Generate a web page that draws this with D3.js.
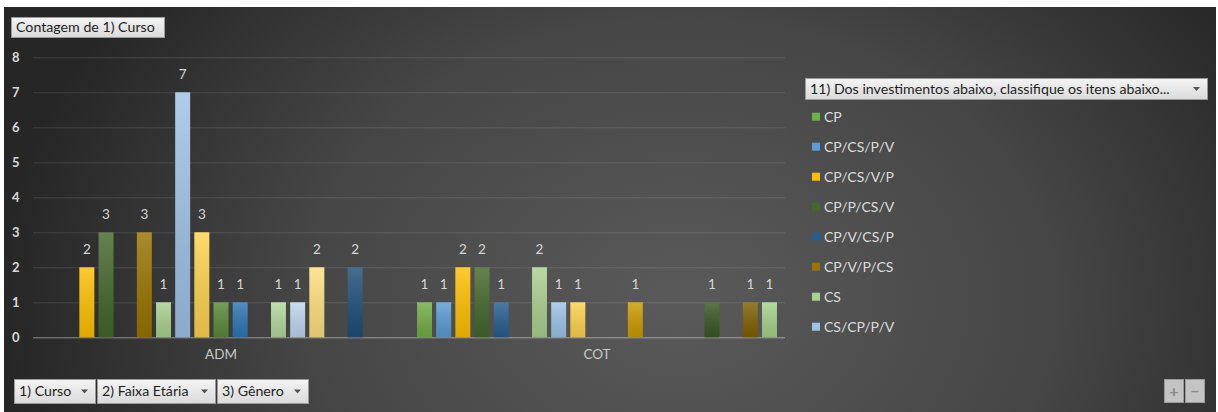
<!DOCTYPE html>
<html>
<head>
<meta charset="utf-8">
<script src="https://cdn.jsdelivr.net/npm/d3@7"></script>
<style>
  html, body { margin: 0; padding: 0; background: #ffffff; }
  svg { display: block; }
  text { font-family: Lato, "Open Sans", sans-serif; }
</style>
</head>
<body>
<svg id="chart" width="1218" height="412"></svg>
<script>
// ---------- data ----------
const categories = ["ADM", "COT"];
const seriesNames = [
  "CP", "CP/CS/P/V", "CP/CS/V/P", "CP/P/CS/V", "CP/V/CS/P", "CP/V/P/CS",
  "CS", "CS/CP/P/V", "CS/CP/V/P", "CS/P/CP/V", "CS/P/V/CP", "CS/V/CP/P",
  "CS/V/P/CP", "P/CP/CS/V", "P/CS/CP/V", "P/V/CP/CS", "V/CP/CS/P", "V/CS/CP/P", "V/P/CS/CP"
];
const seriesColors = [
  "#70AD47", "#5B9BD5", "#FFC000", "#43682B", "#255E91", "#997300",
  "#A9D18E", "#9DC3E6", "#FFD34D", "#5A8A39", "#2E75B6", "#CC9A00",
  "#B4D89C", "#BDD7EE", "#FFE080", "#385723", "#1F4E79", "#806000", "#A5D28A"
];
// counts per series: [ADM, COT]  (0 = no bar)
const valuesADM = [0, 0, 2, 3, 0, 3, 1, 7, 3, 1, 1, 0, 1, 1, 2, 0, 2, 0, 0];
const valuesCOT = [1, 1, 2, 2, 1, 0, 2, 1, 1, 0, 0, 1, 0, 0, 0, 1, 0, 1, 1];
const yTicks = [0, 1, 2, 3, 4, 5, 6, 7, 8];
const legendShown = 8;
const titleLabel = "Contagem de 1) Curso";
const legendTitle = "11) Dos investimentos abaixo, classifique os itens abaixo...";
const filterButtons = ["1) Curso", "2) Faixa Etária", "3) Gênero"];

// ---------- layout ----------
const svg = d3.select("#chart");
const W = 1218, H = 412;
const plot = { left: 33, right: 785, top: 57.3, bottom: 337.3 };

const defs = svg.append("defs");
const bg = defs.append("radialGradient").attr("id", "bg")
  .attr("gradientUnits", "userSpaceOnUse")
  .attr("cx", 680).attr("cy", 300).attr("r", 680)
  .attr("gradientTransform", "translate(680,300) scale(1,0.75) translate(-680,-300)");
bg.append("stop").attr("offset", "0%").attr("stop-color", "#5a5a5a");
bg.append("stop").attr("offset", "55%").attr("stop-color", "#464646");
bg.append("stop").attr("offset", "100%").attr("stop-color", "#262626");

const btn = defs.append("linearGradient").attr("id", "btn").attr("x1", 0).attr("y1", 0).attr("x2", 0).attr("y2", 1);
btn.append("stop").attr("offset", "0%").attr("stop-color", "#f4f4f4");
btn.append("stop").attr("offset", "100%").attr("stop-color", "#dadada");

const shine = defs.append("linearGradient").attr("id", "shine").attr("x1", 0).attr("y1", 0).attr("x2", 0).attr("y2", 1);
shine.append("stop").attr("offset", "0%").attr("stop-color", "#ffffff").attr("stop-opacity", 0.18);
shine.append("stop").attr("offset", "100%").attr("stop-color", "#000000").attr("stop-opacity", 0.12);

svg.append("rect").attr("x", 0).attr("y", 0).attr("width", W).attr("height", H).attr("fill", "#ffffff");
svg.append("rect").attr("x", 4).attr("y", 7).attr("width", W - 6).attr("height", H - 7).attr("fill", "url(#bg)");

// scales
const y = d3.scaleLinear().domain([0, 8]).range([plot.bottom, plot.top]);
const x0 = d3.scaleBand().domain(categories).range([plot.left, plot.right]).padding(0);
const x1 = d3.scaleBand().domain(d3.range(seriesNames.length))
  .range([0, x0.bandwidth()]).paddingInner(0.22).paddingOuter(0.42);

// gridlines
const grid = svg.append("g").attr("transform", `translate(${plot.left},0)`)
  .call(d3.axisLeft(y).tickValues(yTicks).tickSize(-(plot.right - plot.left)).tickFormat(""));
grid.select(".domain").remove();
grid.selectAll(".tick line").attr("stroke", "#ffffff").attr("stroke-opacity", d => d === 0 ? 0.45 : 0.12).attr("stroke-width", 1);

// y tick labels
const yAxis = svg.append("g").attr("transform", "translate(12,0)")
  .call(d3.axisRight(y).tickValues(yTicks).tickSize(0).tickPadding(0));
yAxis.select(".domain").remove();
yAxis.selectAll(".tick text").attr("fill", "#d9d9d9").attr("font-size", 13).attr("font-weight", "bold")
  .attr("font-family", "Lato, sans-serif");

// x category labels
const xAxis = svg.append("g").attr("transform", `translate(0,${plot.bottom})`)
  .call(d3.axisBottom(x0).tickSize(0).tickPadding(12));
xAxis.select(".domain").remove();
xAxis.selectAll(".tick text").attr("fill", "#c8c8c8").attr("font-size", 13.5).attr("font-family", "Lato, sans-serif");

// bars
const rows = categories.map((c, ci) => ({
  cat: c,
  vals: (ci === 0 ? valuesADM : valuesCOT).map((v, si) => ({ si, v }))
}));
const groups = svg.append("g").selectAll("g").data(rows).join("g")
  .attr("transform", d => `translate(${x0(d.cat)},0)`);
const bars = groups.selectAll("g.bar").data(d => d.vals.filter(e => e.v > 0)).join("g").attr("class", "bar");
bars.append("rect")
  .attr("x", d => x1(d.si)).attr("width", x1.bandwidth())
  .attr("y", d => y(d.v)).attr("height", d => y(0) - y(d.v))
  .attr("fill", d => seriesColors[d.si]);
bars.append("rect")
  .attr("x", d => x1(d.si)).attr("width", x1.bandwidth())
  .attr("y", d => y(d.v)).attr("height", d => y(0) - y(d.v))
  .attr("fill", "url(#shine)");
bars.append("text")
  .attr("x", d => x1(d.si) + x1.bandwidth() / 2)
  .attr("y", d => y(d.v) - 13)
  .attr("text-anchor", "middle").attr("fill", "#d6d6d6").attr("font-size", 13.5)
  .text(d => d.v);

// buttons
function button(x, yy, w, h, label, arrow) {
  const b = svg.append("g").attr("transform", `translate(${x},${yy})`);
  b.append("rect").attr("x", 0.5).attr("y", 0.5).attr("width", w - 1).attr("height", h - 1)
    .attr("fill", "url(#btn)").attr("stroke", "#9a9a9a");
  b.append("text").attr("x", 5).attr("y", h / 2).attr("dy", "0.35em")
    .attr("fill", "#1e1e1e").attr("font-size", 14.2).text(label);
  if (arrow) {
    b.append("path").attr("d", `M${w - 15},${h / 2 - 2} l7,0 l-3.5,4 z`).attr("fill", "#555");
  }
  return b;
}
button(11, 17, 154, 21, titleLabel, false);

// legend
button(805, 78, 403, 22, legendTitle, true);
const legend = svg.append("g").selectAll("g").data(seriesNames.slice(0, legendShown)).join("g")
  .attr("transform", (d, i) => `translate(812,${116.7 + i * 30})`);
legend.append("rect").attr("x", 0).attr("y", -4).attr("width", 8).attr("height", 8)
  .attr("fill", (d, i) => seriesColors[i]);
legend.append("text").attr("x", 12).attr("y", 0).attr("dy", "0.35em")
  .attr("fill", "#dcdcdc").attr("font-size", 14).text(d => d);

// filter buttons
const bx = [14, 97, 217];
const bw = [82, 119, 92];
filterButtons.forEach((t, i) => button(bx[i], 379, bw[i], 25, t, true));

// +/- buttons
[["+", 1164], ["\u2212", 1185]].forEach(([t, xx]) => {
  const b = svg.append("g").attr("transform", `translate(${xx},379)`);
  b.append("rect").attr("x", 0.5).attr("y", 0.5).attr("width", 19).attr("height", 23)
    .attr("fill", "#c4c4c4").attr("stroke", "#9a9a9a");
  b.append("text").attr("x", 10).attr("y", 12).attr("dy", "0.35em").attr("text-anchor", "middle")
    .attr("fill", "#8a8a8a").attr("font-size", 16).attr("font-weight", "bold").text(t);
});
</script>
</body>
</html>
